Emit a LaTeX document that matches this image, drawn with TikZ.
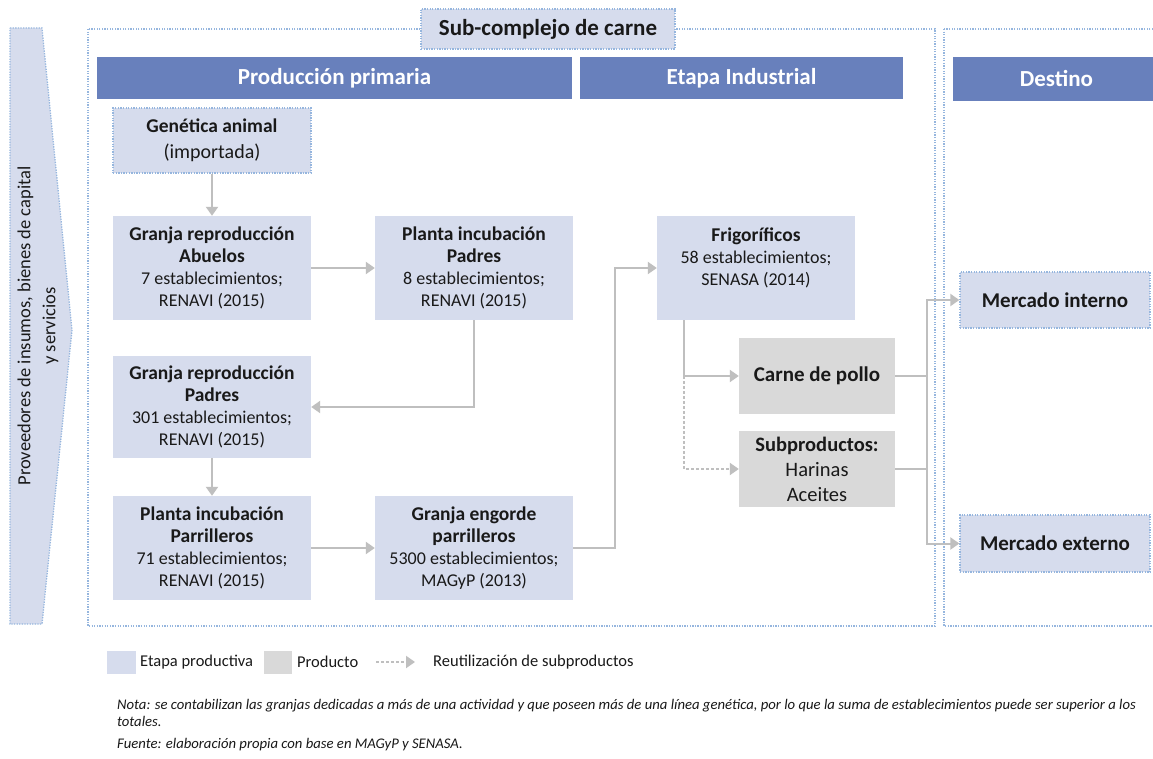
\documentclass[tikz,border=0pt]{standalone}
\usepackage{fontspec}
\setmainfont{Carlito}
\usetikzlibrary{arrows.meta}

\definecolor{etapablue}{RGB}{214,220,237}
\definecolor{prodgray}{RGB}{217,217,217}
\definecolor{headblue}{RGB}{104,128,188}
\definecolor{dotblue}{RGB}{150,182,222}
\definecolor{conngray}{RGB}{191,191,191}
\definecolor{txt}{RGB}{25,25,25}

\newcommand{\boxtitle}[1]{{\fontsize{19.5}{22}\selectfont\bfseries #1}}

\tikzset{
  dotline/.style={draw=dotblue, line width=1.3pt, dash pattern=on 1.3pt off 1.3pt},
  etapa/.style={rectangle, fill=etapablue, text=txt, align=center, minimum width=198pt, minimum height=104pt, inner sep=0pt, font=\fontsize{18}{22}\selectfont},
  producto/.style={etapa, fill=prodgray, minimum width=156pt, minimum height=76pt},
  destino/.style={etapa, dotline, minimum width=190pt, minimum height=56pt, font=\fontsize{21}{25}\selectfont\bfseries},
  header/.style={rectangle, fill=headblue, text=white, minimum height=42pt, inner sep=0pt, font=\fontsize{23}{26}\selectfont\bfseries},
  conn/.style={draw=conngray, line width=2pt, -{Triangle[length=9pt,width=12pt]}},
  link/.style={draw=conngray, line width=2pt},
  legend/.style={anchor=west, inner sep=0pt, text=txt, font=\fontsize{16.5}{20}\selectfont},
  note/.style={inner sep=0pt, text=txt, align=left, font=\fontsize{14.7}{17}\selectfont\itshape},
}

\begin{document}
\begin{tikzpicture}[x=1pt, y=-1pt]
\path[fill=white, use as bounding box] (0,0) rectangle (1153,759);
% Frames
\draw[dotline, fill=etapablue] (10,28) -- (42,28) -- (72,330) -- (42,624) -- (10,624) -- cycle;
\node[rotate=90, align=center, text=txt, font=\fontsize{18.5}{25}\selectfont] (prov) at (38,326) {Proveedores de insumos, bienes de capital\\y servicios};
\draw[dotline] (88,29) rectangle (935,626);
\draw[dotline] (944,29) rectangle (1160,626);
\node[etapa, dotline, minimum width=254pt, minimum height=40pt, font=\fontsize{23}{26}\selectfont\bfseries] (sub) at (548,29) {Sub-complejo de carne};
% Headers
\node[header, minimum width=475pt] (hprim) at (334.5,78) {Producción primaria};
\node[header, minimum width=323pt] (hind) at (741.5,78) {Etapa Industrial};
\node[header, minimum width=207pt, minimum height=44pt] (hdest) at (1056.5,79) {Destino};
% Nodes
\node[etapa, dotline, minimum height=65pt, font=\fontsize{20}{26}\selectfont] (gen) at (212,140.5) {\boxtitle{Genética animal}\\(importada)};
\node[etapa] (abu) at (212,268) {\boxtitle{Granja reproducción}\\\boxtitle{Abuelos}\\7 establecimientos;\\RENAVI (2015)};
\node[etapa] (pip) at (474,268) {\boxtitle{Planta incubación}\\\boxtitle{Padres}\\8 establecimientos;\\RENAVI (2015)};
\node[etapa, minimum height=102pt] (grp) at (212,407) {\boxtitle{Granja reproducción}\\\boxtitle{Padres}\\301 establecimientos;\\RENAVI (2015)};
\node[etapa] (pipa) at (212,548) {\boxtitle{Planta incubación}\\\boxtitle{Parrilleros}\\71 establecimientos;\\RENAVI (2015)};
\node[etapa] (geng) at (474,548) {\boxtitle{Granja engorde}\\\boxtitle{parrilleros}\\5300 establecimientos;\\MAGyP (2013)};
\node[etapa, text depth=23pt] (frig) at (756,268) {\boxtitle{Frigoríficos}\\58 establecimientos;\\SENASA (2014)};
\node[producto, font=\fontsize{21}{25}\selectfont\bfseries] (carne) at (817,376) {Carne de pollo};
\node[producto, font=\fontsize{20.5}{25}\selectfont] (subp) at (817,469) {\textbf{Subproductos:}\\Harinas\\Aceites};
\node[destino] (mint) at (1055,300) {Mercado interno};
\node[destino, minimum height=57pt] (mext) at (1055,543.5) {Mercado externo};
% Arrows
\draw[conn] (gen) -- (abu);
\draw[conn] (abu) -- (pip);
\draw[conn] (pip.south) |- (grp.east);
\draw[conn] (grp) -- (pipa);
\draw[conn] (pipa) -- (geng);
\draw[conn] (geng.east) -- ++(42,0) |- (frig.west);
\coordinate (fb) at ([xshift=-72pt]frig.south);
\draw[conn] (fb) |- (carne.west);
\draw[conn, dash pattern=on 3pt off 2pt] (fb |- carne.west) |- (subp.west);
\coordinate (jn) at (927,376);
\draw[conn] (carne.east) -- (jn) |- (mint.west);
\draw[conn] (jn) |- (mext.west);
\draw[link] (subp.east) -- (subp.east -| jn);
% Legend
\node[fill=etapablue, minimum width=29pt, minimum height=23pt, inner sep=0pt] (lgetapa) at (121.5,662) {};
\node[legend] (lgetapatxt) at (140,662) {Etapa productiva};
\node[fill=prodgray, minimum width=28pt, minimum height=23pt, inner sep=0pt] (lgprod) at (278,662) {};
\node[legend] (lgprodtxt) at (297,662) {Producto};
\coordinate (lga) at (376,662);
\coordinate (lgb) at (415,662);
\draw[conn, dash pattern=on 3pt off 2pt] (lga) -- (lgb);
\node[legend] (lgreut) at (433,662) {Reutilización de subproductos};
% Notes
\node[note, anchor=north west] (nota) at (117,699) {Nota: se contabilizan las granjas dedicadas a más de una actividad y que poseen más de una línea genética, por lo que la suma de establecimientos puede ser superior a los\\totales.};
\node[note, anchor=west] (fuente) at (117,745) {Fuente: elaboración propia con base en MAGyP y SENASA.};
\end{tikzpicture}
\end{document}
